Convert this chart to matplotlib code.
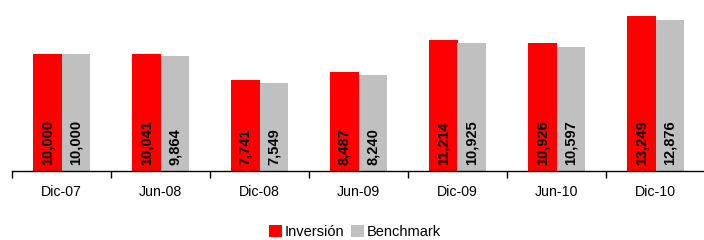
import numpy as np
from matplotlib import pyplot as plt

plt.rcParams['font.family'] = ['Liberation Sans', 'DejaVu Sans']

periodos = ['Dic-07', 'Jun-08', 'Dic-08', 'Jun-09', 'Dic-09', 'Jun-10', 'Dic-10']
inversion = [10000, 10041, 7741, 8487, 11214, 10926, 13249]
benchmark = [10000, 9864, 7549, 8240, 10925, 10597, 12876]

fig = plt.figure(figsize=(7.04, 2.4), dpi=100)
ax = fig.add_axes([12 / 704, 1 - 171 / 240, 693 / 704, 171 / 240])

x = np.arange(len(periodos))
w = 0.29
b1 = ax.bar(x - w / 2, inversion, w, color='#ff0000', label='Inversión')
b2 = ax.bar(x + w / 2, benchmark, w, color='#c0c0c0', label='Benchmark')

for bars, vals in [(b1, inversion), (b2, benchmark)]:
    for r, v in zip(bars, vals):
        ax.text(r.get_x() + r.get_width() / 2, 500, f'{v:,}', rotation=90,
                ha='center', va='bottom', fontsize=10.5, fontweight='bold', color='black')

ax.set_xlim(-0.5, len(periodos) - 0.5)
ax.set_ylim(0, 14615)
ax.set_yticks([])
for s in ['left', 'right', 'top']:
    ax.spines[s].set_visible(False)
ax.spines['bottom'].set_linewidth(1)

# ticks at category boundaries, labels centered
ax.set_xticks(np.arange(len(periodos) + 1) - 0.5)
ax.set_xticklabels([])
ax.set_xticks(x, minor=True)
ax.set_xticklabels(periodos, minor=True, fontsize=10.2)
ax.tick_params(axis='x', which='major', direction='out', length=5, width=1)
ax.tick_params(axis='x', which='minor', length=0, pad=10)

fig.legend(handles=[b1, b2], loc='center', bbox_to_anchor=(355 / 704, 1 - 232 / 240),
           ncol=2, frameon=False, fontsize=10.5, handlelength=0.85, handleheight=0.85,
           handletextpad=0.2, columnspacing=0.5, borderpad=0)

fig.savefig('out.png', dpi=100)
